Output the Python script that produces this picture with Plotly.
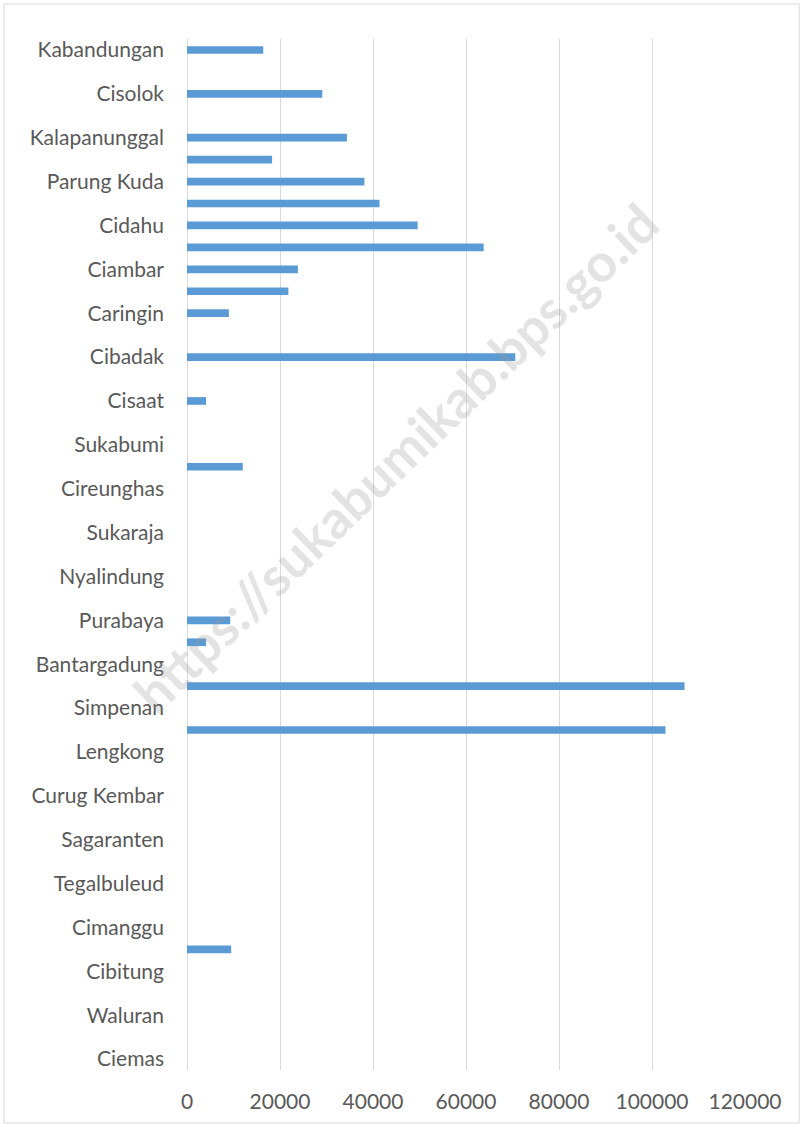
import plotly.graph_objects as go

categories = [
    "Ciemas", "Ciracap", "Waluran", "Surade", "Cibitung", "Jampang Kulon",
    "Cimanggu", "Kali Bunder", "Tegalbuleud", "Cidolog", "Sagaranten", "Cidadap",
    "Curug Kembar", "Pabuaran", "Lengkong", "Pelabuhanratu", "Simpenan",
    "Warung Kiara", "Bantargadung", "Jampang Tengah", "Purabaya", "Cikembar",
    "Nyalindung", "Geger Bitung", "Sukaraja", "Kebonpedes", "Cireunghas",
    "Sukalarang", "Sukabumi", "Kadudampit", "Cisaat", "Gunungguruh", "Cibadak",
    "Cicantayan", "Caringin", "Nagrak", "Ciambar", "Cicurug", "Cidahu",
    "Parakan Salak", "Parung Kuda", "Bojong Genteng", "Kalapanunggal",
    "Cikidang", "Cisolok", "Cikakak", "Kabandungan",
]

values = [
    0, 0, 0, 0, 0, 9500,
    0, 0, 0, 0, 0, 0,
    0, 0, 0, 102900, 0,
    107000, 0, 4100, 9300, 0,
    0, 0, 0, 0, 0,
    12000, 0, 0, 4100, 0, 70600,
    0, 9000, 21800, 23850, 63800, 49600,
    41400, 38150, 18300, 34400,
    0, 29100, 0, 16400,
]

# Excel shows every other category label
tick_labels = categories[::2]
x_ticks = [0, 20000, 40000, 60000, 80000, 100000, 120000]

fig = go.Figure()
fig.add_trace(go.Bar(
    x=values,
    y=categories,
    orientation="h",
    marker=dict(color="#5B9BD5", line=dict(width=0)),
    hoverinfo="x+y",
))

font_family = "Lato, 'Open Sans', sans-serif"

fig.update_layout(
    width=803,
    height=1127,
    margin=dict(l=187, r=58, t=39, b=57),
    paper_bgcolor="white",
    plot_bgcolor="white",
    bargap=0.65,
    showlegend=False,
    font=dict(family=font_family, size=21, color="#595959"),
    xaxis=dict(
        range=[0, 120000],
        tickvals=x_ticks,
        ticktext=[str(v) for v in x_ticks],
        showgrid=True,
        gridcolor="#D9D9D9",
        gridwidth=1,
        zeroline=True,
        zerolinecolor="#D9D9D9",
        zerolinewidth=1,
        showline=False,
        ticks="",
        ticklabelstandoff=17,
        tickfont=dict(size=21, color="#595959"),
    ),
    yaxis=dict(
        type="category",
        categoryorder="array",
        categoryarray=categories,
        tickvals=tick_labels,
        ticktext=tick_labels,
        range=[-0.5, len(categories) - 0.5],
        showgrid=False,
        zeroline=False,
        showline=False,
        ticks="",
        ticklabelstandoff=22,
        tickfont=dict(size=21, color="#595959"),
    ),
    shapes=[
        dict(
            type="rect", xref="paper", yref="paper",
            x0=-0.328, x1=1.097, y0=-0.0514, y1=1.034,
            line=dict(color="#D9D9D9", width=1),
            fillcolor="rgba(0,0,0,0)",
            layer="below",
        )
    ],
    annotations=[
        dict(
            text="https://sukabumikab.bps.go.id",
            xref="paper", yref="paper",
            x=0.373, y=0.594,
            showarrow=False,
            textangle=-44,
            font=dict(family=font_family, size=53, color="rgba(150,150,150,0.27)", weight="bold"),
        )
    ],
)

fig.write_html(
    "out.html",
    config={"displayModeBar": False},
    post_script="document.body.style.margin='0';",
)
